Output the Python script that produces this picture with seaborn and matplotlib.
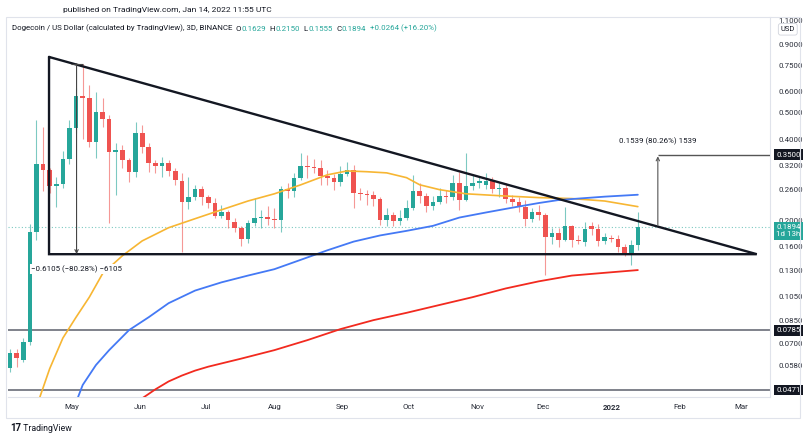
import numpy as np
import pandas as pd
import matplotlib
matplotlib.use('Agg')
import matplotlib.pyplot as plt
import matplotlib.dates as mdates
import matplotlib.transforms as mtransforms
from matplotlib.patches import Rectangle
import seaborn as sns

# DOGE/USD 3D candles (Binance)
start = '2021-04-03'
open_ = [0.0568, 0.0646, 0.0608, 0.0709, 0.182, 0.324, 0.308, 0.269, 0.274, 0.338,
         0.441, 0.578, 0.568, 0.390, 0.504, 0.475, 0.359, 0.365, 0.335, 0.303,
         0.421, 0.374, 0.327, 0.319, 0.327, 0.305, 0.281, 0.234, 0.245, 0.262,
         0.245, 0.232, 0.208, 0.215, 0.198, 0.188, 0.171, 0.196, 0.204, 0.206,
         0.203, 0.201, 0.262, 0.256, 0.288, 0.319, 0.316, 0.313, 0.293, 0.288,
         0.278, 0.298, 0.308, 0.253, 0.251, 0.249, 0.241, 0.201, 0.210, 0.199,
         0.205, 0.223, 0.256, 0.247, 0.227, 0.234, 0.247, 0.245, 0.276, 0.238,
         0.269, 0.276, 0.270, 0.281, 0.262, 0.264, 0.241, 0.234, 0.225, 0.203,
         0.215, 0.210, 0.173, 0.179, 0.169, 0.191, 0.169, 0.167, 0.190, 0.186,
         0.168, 0.172, 0.171, 0.160, 0.151, 0.1629]
high = [0.0669, 0.0669, 0.0734, 0.194, 0.471, 0.444, 0.312, 0.290, 0.362, 0.471,
        0.620, 0.7605, 0.634, 0.599, 0.568, 0.490, 0.387, 0.381, 0.340, 0.463,
        0.451, 0.387, 0.335, 0.344, 0.335, 0.313, 0.300, 0.290, 0.271, 0.269,
        0.249, 0.243, 0.229, 0.219, 0.205, 0.191, 0.201, 0.243, 0.219, 0.227,
        0.223, 0.269, 0.276, 0.300, 0.356, 0.350, 0.338, 0.335, 0.308, 0.298,
        0.319, 0.330, 0.321, 0.264, 0.260, 0.256, 0.245, 0.223, 0.215, 0.219,
        0.238, 0.295, 0.276, 0.253, 0.247, 0.264, 0.260, 0.295, 0.303, 0.356,
        0.295, 0.290, 0.300, 0.290, 0.276, 0.276, 0.249, 0.245, 0.238, 0.223,
        0.229, 0.214, 0.188, 0.188, 0.225, 0.193, 0.177, 0.198, 0.198, 0.194,
        0.180, 0.177, 0.176, 0.163, 0.169, 0.2150]
low = [0.0549, 0.0572, 0.0598, 0.0690, 0.169, 0.256, 0.253, 0.225, 0.264, 0.324,
       0.420, 0.400, 0.374, 0.341, 0.444, 0.196, 0.249, 0.313, 0.278, 0.290,
       0.356, 0.303, 0.300, 0.290, 0.293, 0.271, 0.153, 0.221, 0.238, 0.229,
       0.223, 0.205, 0.205, 0.188, 0.182, 0.161, 0.165, 0.191, 0.188, 0.193,
       0.188, 0.182, 0.243, 0.245, 0.283, 0.288, 0.300, 0.271, 0.271, 0.260,
       0.269, 0.293, 0.223, 0.238, 0.229, 0.227, 0.193, 0.191, 0.191, 0.193,
       0.201, 0.219, 0.232, 0.215, 0.219, 0.231, 0.232, 0.238, 0.219, 0.236,
       0.260, 0.264, 0.262, 0.253, 0.245, 0.232, 0.227, 0.215, 0.191, 0.198,
       0.201, 0.126, 0.163, 0.159, 0.168, 0.160, 0.163, 0.161, 0.176, 0.161,
       0.164, 0.167, 0.153, 0.148, 0.137, 0.1555]
close = [0.0646, 0.0619, 0.0709, 0.182, 0.324, 0.308, 0.269, 0.274, 0.338, 0.441,
         0.578, 0.568, 0.390, 0.504, 0.475, 0.359, 0.365, 0.335, 0.303, 0.421,
         0.374, 0.327, 0.319, 0.327, 0.305, 0.283, 0.234, 0.245, 0.262, 0.245,
         0.232, 0.208, 0.215, 0.201, 0.188, 0.171, 0.196, 0.205, 0.206, 0.203,
         0.201, 0.262, 0.256, 0.288, 0.319, 0.316, 0.313, 0.293, 0.288, 0.278,
         0.298, 0.308, 0.253, 0.251, 0.249, 0.241, 0.201, 0.210, 0.199, 0.205,
         0.223, 0.256, 0.247, 0.227, 0.234, 0.247, 0.245, 0.276, 0.238, 0.269,
         0.276, 0.279, 0.281, 0.262, 0.264, 0.241, 0.234, 0.225, 0.203, 0.215,
         0.210, 0.173, 0.179, 0.169, 0.191, 0.169, 0.168, 0.186, 0.186, 0.168,
         0.173, 0.171, 0.160, 0.151, 0.1629, 0.1894]

# moving averages (50 / 100 / 200), sampled at candle numbers
ma50_idx = [4, 6, 8, 10, 12, 14, 17, 20, 24, 28, 32, 36, 40, 44, 48, 51, 54, 57,
            60, 62, 65, 69, 74, 80, 85, 90, 95]
ma50 = [0.0408, 0.0565, 0.0734, 0.0877, 0.104, 0.127, 0.148, 0.168, 0.188, 0.203,
        0.219, 0.236, 0.251, 0.271, 0.295, 0.305, 0.303, 0.300, 0.288, 0.271,
        0.260, 0.251, 0.247, 0.243, 0.241, 0.236, 0.225]
ma100_idx = [10, 11, 13, 15, 18, 21, 24, 28, 32, 36, 40, 44, 48, 52, 56, 60, 64,
             68, 72, 76, 80, 83, 85, 90, 95]
ma100 = [0.0425, 0.0492, 0.0583, 0.0662, 0.0785, 0.0877, 0.0988, 0.110, 0.118,
         0.125, 0.132, 0.143, 0.155, 0.167, 0.176, 0.183, 0.191, 0.205, 0.214,
         0.223, 0.232, 0.238, 0.240, 0.245, 0.249]
ma200_idx = [20, 22, 24, 26, 28, 30, 35, 40, 45, 50, 55, 60, 65, 70, 75, 80, 85, 90, 95]
ma200 = [0.0439, 0.0474, 0.0507, 0.0533, 0.0556, 0.0575, 0.0616, 0.0662, 0.0721,
         0.0792, 0.0855, 0.0910, 0.0973, 0.104, 0.112, 0.119, 0.125, 0.128, 0.131]

# drawings
tri_dates = ['2021-04-20 17:00', '2021-04-20 17:00', '2022-03-08 00:00']
tri_prices = [0.806, 0.150, 0.150]
levels = [0.0785, 0.0471]
drop_date, drop_from, drop_to = '2021-05-03 05:00', 0.7605, 0.1500
rise_date, rise_from, rise_to = '2022-01-22 02:00', 0.1917, 0.3456
target = 0.35
last_price = 0.1894
price_ticks = [1.1, 0.9, 0.75, 0.6, 0.5, 0.4, 0.32, 0.26, 0.2, 0.16, 0.13,
               0.105, 0.085, 0.07, 0.058]

GREEN = '#26a69a'
RED = '#ef5350'
INK = '#131722'
FS = 5.7

sns.set_theme(style='white')
plt.rcParams['font.family'] = ['Roboto', 'DejaVu Sans']

fig = plt.figure(figsize=(8.07, 4.40), dpi=100)
ax = fig.add_axes([8 / 807, 43 / 440, 762 / 807, 380 / 440])

o = np.array(open_)
h = np.array(high)
l = np.array(low)
c = np.array(close)
x = mdates.date2num(pd.date_range(start, periods=len(o), freq='3D'))
up = c >= o
cols = np.where(up, GREEN, RED)
bot = np.minimum(o, c)
hgt = np.maximum(np.abs(c - o), bot * 0.009)

ax.vlines(x, l, h, colors=cols, lw=0.8, alpha=0.6, zorder=2)
ax.bar(x, hgt, bottom=bot, width=2.1, color=cols, linewidth=0, zorder=2)

sns.lineplot(x=x[ma50_idx], y=ma50, ax=ax, color='#f7b633', lw=1.2, zorder=3)
sns.lineplot(x=x[ma100_idx], y=ma100, ax=ax, color='#4479f5', lw=1.3, zorder=3)
sns.lineplot(x=x[ma200_idx], y=ma200, ax=ax, color='#f22a1f', lw=1.3, zorder=3)

# triangle
td = mdates.date2num(pd.to_datetime(tri_dates))
ax.plot(list(td) + [td[0]], tri_prices + [tri_prices[0]], color=INK, lw=1.7,
        solid_joinstyle='miter', zorder=4)

for lv in levels:
    ax.axhline(lv, color='#6a6d78', lw=1.2, zorder=1)
ax.axhline(last_price, color=GREEN, lw=0.8, ls=(0, (1, 2)), alpha=0.6, zorder=1)

x_left = mdates.date2num(pd.Timestamp(start) - pd.Timedelta(hours=22))
x_right = mdates.date2num(pd.Timestamp('2022-03-14'))

# measurement: drop
xd = mdates.date2num(pd.Timestamp(drop_date))
ax.annotate('', xy=(xd, drop_to), xytext=(xd, drop_from),
            arrowprops=dict(arrowstyle='->', color='#444', lw=0.8, shrinkA=0,
                            shrinkB=0, mutation_scale=6), zorder=5)
ax.hlines(drop_from, xd - 2.7, xd + 2.7, color='#444', lw=0.8, zorder=5)
ax.text(xd, 0.1322, '\u22120.6105 (\u221280.28%) \u22126105', ha='center', va='center',
        fontsize=FS, color=INK, zorder=6,
        bbox=dict(boxstyle='square,pad=0.1', fc='white', ec='none'))

# measurement: target
xr = mdates.date2num(pd.Timestamp(rise_date))
ax.annotate('', xy=(xr, rise_to), xytext=(xr, rise_from),
            arrowprops=dict(arrowstyle='->', color='#555', lw=0.8, shrinkA=0,
                            shrinkB=0, mutation_scale=6), zorder=5)
ax.hlines(target, xr, x_right, color='#555', lw=1.0, zorder=5)
ax.text(xr, 0.394, '0.1539 (80.26%) 1539', ha='center', va='center',
        fontsize=FS, color=INK, zorder=6)

ax.set_yscale('log')
ax.set_ylim(0.0444, 1.133)
ax.set_xlim(x_left, x_right)

ax.yaxis.tick_right()
ax.yaxis.set_minor_locator(plt.NullLocator())
ax.set_yticks(price_ticks)
ax.set_yticklabels([f'{v:.4f}' for v in price_ticks])
ax.tick_params(axis='y', length=0, pad=6, labelsize=FS, labelcolor='#2a2e39')

months = pd.date_range('2021-05-01', '2022-03-01', freq='MS')
ax.set_xticks(mdates.date2num(months))
ax.set_xticklabels([str(m.year) if m.month == 1 else m.strftime('%b') for m in months])
ax.tick_params(axis='x', length=0, pad=5, labelsize=FS, labelcolor='#2a2e39')
for t in ax.get_xticklabels():
    if t.get_text() == '2022':
        t.set_fontweight('bold')
ax.set_xlabel('')
ax.set_ylabel('')

for s in ['left', 'top']:
    ax.spines[s].set_visible(False)
for s in ['bottom', 'right']:
    ax.spines[s].set_color('#e0e3eb')
    ax.spines[s].set_linewidth(0.8)
ax.set_facecolor('white')

fig.add_artist(Rectangle((6 / 807, 22 / 440), 794 / 807, 401 / 440, transform=fig.transFigure,
                         fill=False, ec='#e0e3eb', lw=0.8))

# price-axis boxes
tr = mtransforms.blended_transform_factory(ax.transAxes, ax.transData)
xl = 1.0079
for v in [target] + levels:
    ax.text(xl, v, f'{v:.4f}', transform=tr, ha='left', va='center', fontsize=FS,
            color='white', zorder=10,
            bbox=dict(boxstyle='square,pad=0.3', fc=INK, ec='none'))
ax.text(xl, 0.1828, f'{last_price:.4f}\n1d 13h', transform=tr, ha='left', va='center',
        fontsize=FS, color='white', linespacing=1.2, zorder=10,
        bbox=dict(boxstyle='square,pad=0.3', fc=GREEN, ec='none'))
ax.text(xl + 0.006, 1.02, 'USD', transform=tr, ha='left', va='center', fontsize=FS - 0.3,
        color=INK, zorder=10,
        bbox=dict(boxstyle='round,pad=0.3', fc='white', ec='#d1d4dc', lw=0.6))

# header
fig.text(63 / 807, 1 - 10 / 440, 'published on TradingView.com, Jan 14, 2022 11:55 UTC',
         fontsize=FS + 0.3, color=INK, va='center')
t = fig.text(12 / 807, 1 - 28 / 440,
             'Dogecoin / US Dollar (calculated by TradingView), 3D, BINANCE',
             fontsize=FS, color=INK, va='center')
parts = [('  O', INK), ('0.1629', GREEN), ('  H', INK), ('0.2150', GREEN),
         ('  L', INK), ('0.1555', GREEN), ('  C', INK), ('0.1894', GREEN),
         ('  +0.0264 (+16.20%)', GREEN)]
for s, col in parts:
    t = ax.annotate(s, xy=(1, 0), xycoords=t, ha='left', va='bottom', fontsize=FS,
                    color=col, annotation_clip=False)

# footer logo
t = fig.text(10 / 807, 1 - 428 / 440, '17', fontsize=7, fontweight='bold', color=INK,
             va='center')
ax.annotate(' TradingView', xy=(1, 0), xycoords=t, ha='left', va='bottom', fontsize=6.3,
            color=INK, annotation_clip=False)

fig.savefig('out.png', dpi=100, facecolor='white')
